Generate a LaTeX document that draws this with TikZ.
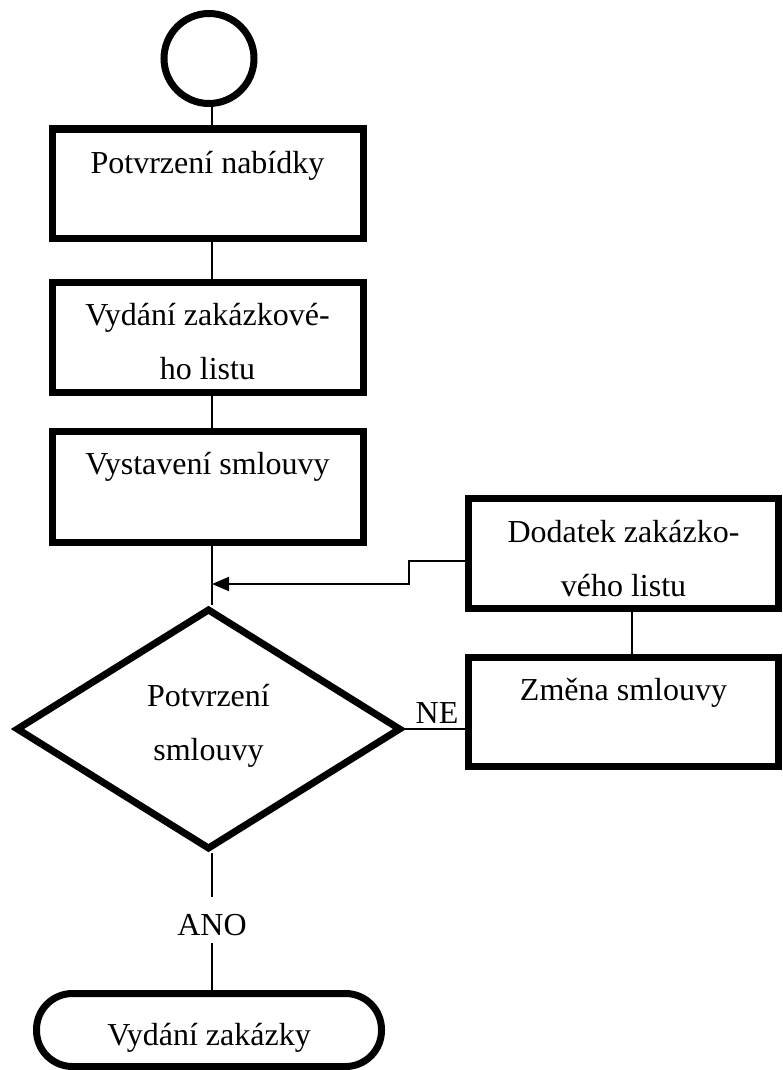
\documentclass[tikz,border=0pt]{standalone}
\usepackage{fontspec}
\setmainfont{Liberation Serif}
\usetikzlibrary{shapes.geometric,arrows.meta}
\tikzset{
  thickbox/.style={draw, line width=7pt, inner sep=0pt, font=\fontsize{32}{54}\selectfont},
  thin/.style={line width=2pt},
  arr/.style={thin, -{Triangle[length=17pt,width=14pt]}},
  lbl/.style={inner sep=0pt, font=\fontsize{32}{54}\selectfont}
}
\begin{document}
\begin{tikzpicture}[x=1pt,y=-1pt]
\path[use as bounding box, fill=white] (0,0) rectangle (782,1070);

\coordinate (spine) at (212,0);
\coordinate (rspine) at (632,0);
\coordinate (join) at (212,584);

% start circle
\node[thickbox, circle, minimum size=90pt] (start) at (209,58.5) {};

% main column
\node[thickbox, minimum width=311pt, minimum height=109pt, text height=44pt, text depth=65pt]
  (b1) at (207.5,183.5) {Potvrzení nabídky};
\node[thickbox, minimum width=311pt, minimum height=110pt, text height=43pt, text depth=67pt]
  (b2) at (207.5,337) {\parbox[t]{300pt}{\centering Vydání zakázkové-\\ho listu}};
\node[thickbox, minimum width=311pt, minimum height=111pt, text height=43pt, text depth=68pt]
  (b3) at (207.5,486.5) {Vystavení smlouvy};

\node[thickbox, diamond, minimum width=385pt, minimum height=241pt, text height=10pt, text depth=56pt]
  (dia) at (208.5,729) {\parbox[t]{140pt}{\centering Potvrzení\\smlouvy}};

\node[lbl, text height=38pt, text depth=8pt] (ano) at (212,920) {ANO};

\node[thickbox, rounded corners=36pt, minimum width=345pt, minimum height=73pt, text height=51.5pt, text depth=21.5pt]
  (term) at (209,1030) {Vydání zakázky};

% right column
\node[thickbox, minimum width=310pt, minimum height=110pt, text height=44pt, text depth=66pt]
  (dod) at (623.5,553) {\parbox[t]{300pt}{\centering Dodatek zakázko-\\vého listu}};
\node[thickbox, minimum width=310pt, minimum height=109pt, text height=43pt, text depth=66pt]
  (zm) at (623.5,711.5) {Změna smlouvy};

\node[lbl, anchor=base] (ne) at (437,723) {NE};

% connectors
\draw[thin] (start.south -| spine) -- (b1.north -| spine);
\draw[thin] (b1.south -| spine) -- (b2.north -| spine);
\draw[thin] (b2.south -| spine) -- (b3.north -| spine);
\draw[thin] (b3.south -| spine) -- (dia.north -| spine);
\draw[thin] (dia.south -| spine) -- (ano.north);
\draw[thin] (ano.south) -- (term.north -| spine);
\draw[thin] (dod.south -| rspine) -- (zm.north -| rspine);
\draw[thin] (dia.east) -- (dia.east -| zm.west);
\draw[arr] ([yshift=-8pt]dod.west) -- ++(-56,0) |- (join);
\end{tikzpicture}
\end{document}
